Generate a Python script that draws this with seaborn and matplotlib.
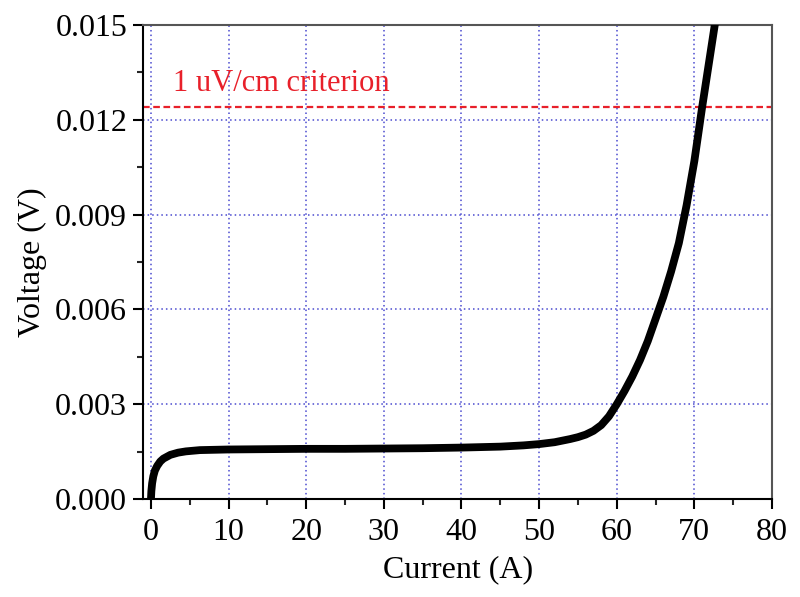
import matplotlib
matplotlib.use('Agg')
import matplotlib.pyplot as plt
import pandas as pd
import seaborn as sns
from matplotlib.ticker import MultipleLocator, FormatStrFormatter

# values
current = [0, 0.05, 0.15, 0.3, 0.5, 0.8, 1.2, 1.6, 2.5, 3.5, 4.5, 6.3, 10, 15,
           20, 25, 30, 35, 40, 45, 48, 50, 52, 54, 55, 56, 57, 58, 59, 60, 61,
           62, 63, 64, 65, 66, 67, 68, 69, 70, 71, 72, 73]
voltage = [0, 0.00025, 0.0005, 0.00072, 0.0009, 0.00105, 0.00119, 0.00128,
           0.00140, 0.00147, 0.00151, 0.00155, 0.00157, 0.00158, 0.00159,
           0.00159, 0.00160, 0.00161, 0.00163, 0.00166, 0.00170, 0.00174,
           0.00180, 0.00190, 0.00196, 0.00204, 0.00216, 0.00234, 0.00262,
           0.0030, 0.00342, 0.00388, 0.0044, 0.0050, 0.0057, 0.0064, 0.0072,
           0.0081, 0.0093, 0.0107, 0.0124, 0.0140, 0.0156]
criterion = 0.0124
criterion_label = '1 uV/cm criterion'

df = pd.DataFrame({'Current (A)': current, 'Voltage (V)': voltage})

sns.set_theme(style='ticks')
plt.rcParams['font.family'] = ['Liberation Serif', 'DejaVu Serif']
plt.rcParams['text.color'] = 'black'
plt.rcParams['axes.labelcolor'] = 'black'

fig = plt.figure(figsize=(8, 5.97), dpi=100)
ax = fig.add_axes([0.179, 0.164, 0.786, 0.794])

ax.grid(True, which='major', color='#4a4ad0', linestyle=(0, (1, 2)), linewidth=1.1)
ax.set_axisbelow(True)

ax.axhline(criterion, color='#e8202a', linestyle=(0, (3, 1.6)), linewidth=1.6, zorder=2)
ax.text(2.8, 0.0129, criterion_label, color='#e8202a', fontsize=22, zorder=3)

sns.lineplot(data=df, x='Current (A)', y='Voltage (V)', sort=False,
             color='black', linewidth=5.6, ax=ax, zorder=4,
             solid_joinstyle='round', solid_capstyle='butt')

ax.set_xlim(-1, 80)
ax.set_ylim(0, 0.015)
ax.xaxis.set_major_locator(MultipleLocator(10))
ax.xaxis.set_minor_locator(MultipleLocator(5))
ax.yaxis.set_major_locator(MultipleLocator(0.003))
ax.yaxis.set_minor_locator(MultipleLocator(0.0015))
ax.yaxis.set_major_formatter(FormatStrFormatter('%.3f'))

for s in ax.spines.values():
    s.set_linewidth(1.5)
    s.set_color('black')
ax.spines['top'].set_color('#555555')
ax.spines['right'].set_color('#555555')

ax.tick_params(which='major', direction='out', length=7.5, width=1.5,
               labelsize=23, colors='black', pad=4, top=False, right=False)
ax.tick_params(axis='x', which='major', pad=6)
ax.tick_params(which='minor', direction='out', length=4.5, width=1.5,
               top=False, right=False)

ax.set_xlabel('Current (A)', fontsize=23, labelpad=6)
ax.set_ylabel('Voltage (V)', fontsize=23, labelpad=6)

fig.savefig('out.png', dpi=100)
